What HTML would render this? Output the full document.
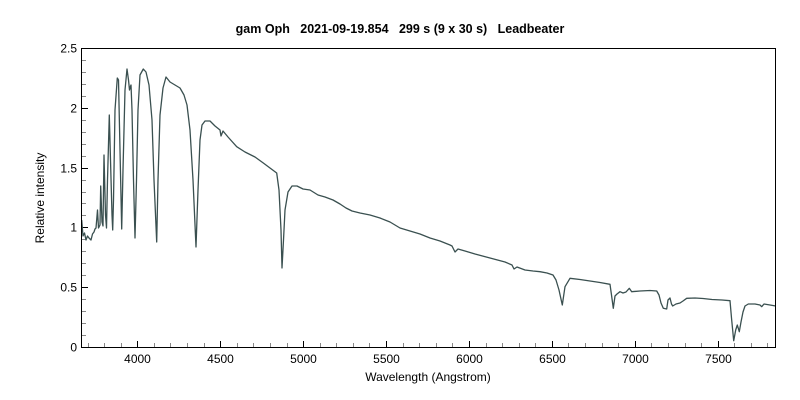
<!DOCTYPE html>
<html><head><meta charset="utf-8"><style>
html,body{margin:0;padding:0;background:#fff;}
svg{display:block;font-family:"Liberation Sans",Arial,sans-serif;}
</style></head><body>
<svg id="s" width="800" height="400" viewBox="0 0 800 400" xmlns="http://www.w3.org/2000/svg">
<rect width="800" height="400" fill="#fff"/>
<text x="400" y="33" text-anchor="middle" font-size="12.5" font-weight="bold" fill="#000">gam Oph&#160;&#160; 2021-09-19.854&#160;&#160; 299 s (9 x 30 s)&#160;&#160; Leadbeater</text>
<g id="ticks" stroke="#000" stroke-width="1"></g>
<polyline fill="none" stroke="#3a5050" stroke-width="1.3" stroke-linejoin="round" points="
81.7,220 83,236 84.5,233 86,240 87.5,236 89,238 91,240 92.5,234 94,232 95,229 96,228 97.5,210 98.5,228 100,225 100.7,186 102,222 103,226 104,155 105.5,215 106.5,228 107.5,180 109.3,115 110.5,160 112,215 112.7,230 113.5,200 115,110 117.3,78 118.5,80 120,150 121.7,229 123,170 125,90 127,69 128.5,80 129.5,90 130,88 131,85 132,110 133.5,180 135,238 136.5,180 138,110 140,75 143.3,69 146,72 149,85 152,120 154,180 156.7,242 158,180 160,115 163,88 166,77 170,82 175,85 180,88 184,95 187,105 190,130 193,180 196,247 198,190 200,140 202,125 205,121 210,121 215,126 220,130 221,136 223,131 228,137 236.7,146.7 245,152 255,157 263.3,163 270,168 276.7,173 279,190 281,230 282,268 283.5,240 285,210 288,192 292,186 297,186 303,189 310,190 318,195 325,197 333,200 340,204 346,208 352,211 360,213 370,215 380,218 390,222 400,228 410,231 420,234 430,238 440,241 450,245 452,246 455,252 458,249 465,251 475,254 490,258 505,262 512,265 514,269 517,267 525,270 533,271 540,271.7 547,273 553,275 556,280 559,290 562.3,305 565,286.7 570,278.3 580,279.5 590,281 600,282.5 610,284.3 611.5,295 613.3,308.3 615,296 617,294 620,291.7 623,293 626,292 629.3,288.3 631.7,291.7 640,291 650,290.5 656.7,291 659,295 661,303 663.3,308.3 666.7,309 668,300 670,298 671.5,304 672.7,306 676,304 680,303 683,301 686.7,298.3 695,298 703,298.5 712,299.5 722,300 730,300.7 731.5,318 733.7,340.7 735.7,330 737.3,325 739.3,331.7 741,322 743,312 745,306 748.3,304 755,304 760,305 761.7,306.7 764,304 770,305 775.7,306"/>
<rect x="81.5" y="48.5" width="694" height="299" fill="none" stroke="#000" stroke-width="1"/>
<g id="lab" font-size="12" fill="#000"></g>
<text x="428" y="381" text-anchor="middle" font-size="12" fill="#000">Wavelength (Angstrom)</text>
<text transform="translate(44,198) rotate(-90)" text-anchor="middle" font-size="12" fill="#000">Relative intensity</text>
</svg>
<script>
var ns="http://www.w3.org/2000/svg",t=document.getElementById("ticks"),l=document.getElementById("lab");
function ln(x1,y1,x2,y2,c){var e=document.createElementNS(ns,"line");e.setAttribute("x1",x1);e.setAttribute("y1",y1);e.setAttribute("x2",x2);e.setAttribute("y2",y2);if(c)e.setAttribute("stroke",c);t.appendChild(e);}
function tx(x,y,s,a){var e=document.createElementNS(ns,"text");e.setAttribute("x",x);e.setAttribute("y",y);e.setAttribute("text-anchor",a);e.textContent=s;l.appendChild(e);}
for(var w=3700;w<=7800;w+=100){var x=Math.round(137.3+(w-4000)*0.16583)+0.5;var maj=w%500==0;ln(x,347,x,maj?341:343,maj?"#000":"#888");if(maj)tx(x,363,String(w),"middle");}
for(var i=0;i<=25;i++){var y=Math.round(347-i*0.1*119.6)+0.5;var maj=i%5==0;ln(82,y,maj?88:86,y,maj?"#000":"#888");if(maj)tx(77,y+4,String(i/10),"end");}
</script>
</body></html>
